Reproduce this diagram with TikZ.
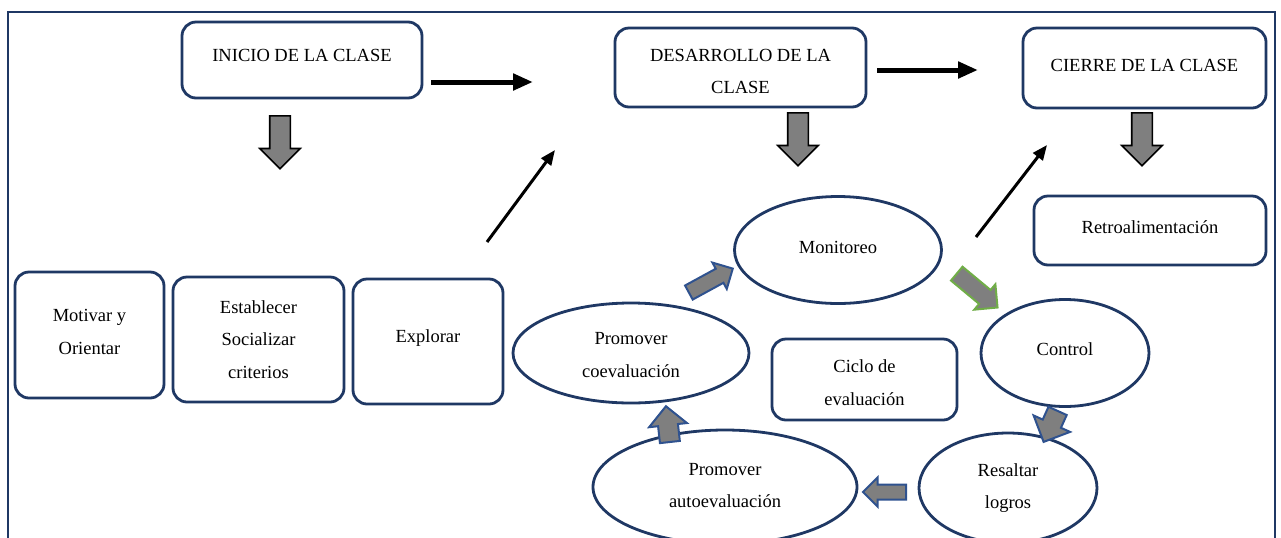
\documentclass[tikz,border=0pt]{standalone}
\usepackage{fontspec}
\setmainfont{Liberation Serif}
\usetikzlibrary{shapes.geometric, shapes.arrows, arrows.meta}
\definecolor{navyblue}{HTML}{1F3864}
\definecolor{shapeblue}{HTML}{2F528F}
\definecolor{leafgreen}{HTML}{70AD47}
\definecolor{arrowgray}{HTML}{7F7F7F}

\tikzset{
  stagebox/.style={rectangle, rounded corners=7pt, draw=navyblue, line width=1.4pt, fill=white, inner sep=0pt},
  cycleoval/.style={ellipse, draw=navyblue, line width=1.4pt, fill=white, inner sep=0pt},
  boxtext/.style={font=\fontsize{9.25pt}{16.4pt}\selectfont, align=center, inner sep=0pt},
  downblock/.style={single arrow, draw=black, line width=0.8pt, fill=arrowgray, inner xsep=0pt, inner ysep=4.75pt, minimum height=26.5pt, minimum width=19.5pt, single arrow head extend=5pt, rotate=-90, anchor=tail},
  cycleblock/.style={single arrow, draw=shapeblue, line width=1pt, fill=arrowgray, inner xsep=0pt, anchor=tail},
  thickarrow/.style={line width=2.5pt, -{Triangle[length=10pt, width=8pt]}},
  thinarrow/.style={line width=1.5pt, -{Triangle[length=7.5pt, width=6pt]}}
}

\begin{document}
\begin{tikzpicture}[x=0.5pt, y=-0.5pt]
\clip (0,0) rectangle (1281,537);
\fill[white] (0,0) rectangle (1281,537);
% Frame
\draw[navyblue, line width=1.2pt] (8,560) -- (8,12) -- (1275,12) -- (1275,560);

% Stage boxes
\node[stagebox, minimum width=120pt, minimum height=38pt] (inicio) at (302,60) {};
\node[stagebox, minimum width=125.5pt, minimum height=39.5pt] (desarrollo) at (740.5,67.5) {};
\node[stagebox, minimum width=121.5pt, minimum height=40pt] (cierre) at (1144.5,68) {};
\node[stagebox, minimum width=116pt, minimum height=34.5pt] (retro) at (1150,230.5) {};

% Start boxes
\node[stagebox, minimum width=74.5pt, minimum height=63pt] (motivar) at (89.5,335) {};
\node[stagebox, minimum width=85.5pt, minimum height=62.5pt] (establecer) at (258.5,339.5) {};
\node[stagebox, minimum width=75pt, minimum height=62.5pt] (explorar) at (428,341.5) {};

% Cycle
\node[cycleoval, minimum width=103.5pt, minimum height=53.5pt] (monitoreo) at (838,250) {};
\node[cycleoval, minimum width=118pt, minimum height=50pt] (coeval) at (631,353) {};
\node[cycleoval, minimum width=84pt, minimum height=53.5pt] (control) at (1065,353) {};
\node[cycleoval, minimum width=89pt, minimum height=55pt] (resaltar) at (1008,488) {};
\node[cycleoval, minimum width=132pt, minimum height=57pt] (autoeval) at (725,487) {};
\node[stagebox, minimum width=92.5pt, minimum height=40.5pt] (ciclo) at (864.5,379.5) {};

% Text
\node[boxtext] (inicioText) at (inicio.center) [yshift=2.5pt] {INICIO DE LA CLASE};
\node[boxtext] (desarrolloText) at (desarrollo.center) [yshift=-2pt] {DESARROLLO DE LA\\CLASE};
\node[boxtext] (cierreText) at (cierre.center) [yshift=1.5pt] {CIERRE DE LA CLASE};
\node[boxtext] (retroText) at (retro.center) [yshift=1.75pt] {Retroalimentación};
\node[boxtext] (motivarText) at (motivar.center) [yshift=1.5pt] {Motivar y\\Orientar};
\node[boxtext] (establecerText) at (establecer.center) {Establecer\\Socializar\\criterios};
\node[boxtext] (explorarText) at (explorar.center) [yshift=1.75pt] {Explorar};
\node[boxtext] (monitoreoText) at (monitoreo.center) [yshift=1.5pt] {Monitoreo};
\node[boxtext] (coevalText) at (coeval.center) [yshift=-1pt] {Promover\\coevaluación};
\node[boxtext] (controlText) at (control.center) [yshift=2pt] {Control};
\node[boxtext] (resaltarText) at (resaltar.center) {Resaltar\\logros};
\node[boxtext] (autoevalText) at (autoeval.center) [yshift=0.75pt] {Promover\\autoevaluación};
\node[boxtext] (cicloText) at (ciclo.center) [yshift=-1.75pt] {Ciclo de\\evaluación};

% Block arrows
\node[downblock] (inicioDown) at (280,115) {};
\node[downblock] (desarrolloDown) at (798,112) {};
\node[downblock] (cierreDown) at (1142,112) {};

\node[cycleblock, inner ysep=3.5pt, minimum height=25pt, minimum width=14pt, single arrow head extend=3.5pt, rotate=28.6] (coToMon) at (688,293) {};
\node[cycleblock, draw=leafgreen, inner ysep=4pt, minimum height=26.5pt, minimum width=15.5pt, single arrow head extend=3.75pt, rotate=-39.7] (monToCtrl) at (956,273) {};
\node[cycleblock, inner ysep=4.5pt, minimum height=17pt, minimum width=19pt, single arrow head extend=5pt, rotate=-114.3] (ctrlToRes) at (1058,410) {};
\node[cycleblock, inner ysep=3.25pt, minimum height=21.5pt, minimum width=13.5pt, single arrow head extend=3.5pt, rotate=180] (resToAuto) at (907,492) {};
\node[cycleblock, inner ysep=4.5pt, minimum height=18pt, minimum width=18pt, single arrow head extend=4.5pt, rotate=96.3] (autoToCo) at (670,443) {};

% Black arrows
\coordinate (inicioOut) at (431,82);
\coordinate (inicioEnd) at (533,82);
\coordinate (desarrolloOut) at (877,70);
\coordinate (desarrolloEnd) at (978,70);
\coordinate (explorarOut) at (487,242);
\coordinate (explorarEnd) at (555,150);
\coordinate (monitoreoOut) at (976,237);
\coordinate (monitoreoEnd) at (1047,145);

\draw[thickarrow] (inicioOut) -- (inicioEnd);
\draw[thickarrow] (desarrolloOut) -- (desarrolloEnd);
\draw[thinarrow] (explorarOut) -- (explorarEnd);
\draw[thinarrow] (monitoreoOut) -- (monitoreoEnd);
\end{tikzpicture}
\end{document}
